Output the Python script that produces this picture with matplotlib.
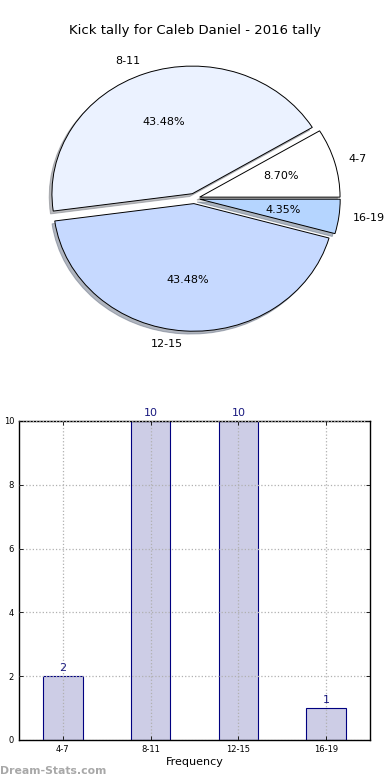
import matplotlib
matplotlib.use("Agg")
import matplotlib.pyplot as plt

categories = ["4-7", "8-11", "12-15", "16-19"]
counts = [2, 10, 10, 1]
pie_colors = ["#FFFFFF", "#EBF2FF", "#C6D9FF", "#B5D5FF"]
title = "Kick tally for Caleb Daniel - 2016 tally"
yticks = [0, 2, 4, 6, 8, 10]

fig = plt.figure(figsize=(3.9, 7.8), dpi=100)

# Pie
ax1 = fig.add_axes([0.048, 0.541, 0.9, 0.409])
ax1.pie(counts, labels=categories, colors=pie_colors, explode=[0.04] * 4,
        autopct="%1.2f%%", pctdistance=0.6, labeldistance=1.1,
        shadow=dict(ox=-0.014, oy=-0.016, shade=0.5),
        startangle=0, wedgeprops=dict(edgecolor="black", linewidth=0.7),
        textprops=dict(fontsize=8))
ax1.set_aspect("auto")
ax1.set_xlim(-1.25, 1.25)
ax1.set_ylim(-1.25, 1.25)
fig.text(0.5, 0.961, title, ha="center", va="center", fontsize=9.5)

# Bar
ax2 = fig.add_axes([0.0487, 0.0513, 0.9, 0.409])
x = list(range(len(categories)))
bars = ax2.bar(x, counts, width=0.45, color="#CDCDE6", edgecolor="#000080",
               linewidth=0.8, zorder=1)
for xi, c in zip(x, counts):
    ax2.text(xi, c + 0.1, str(c), ha="center", va="bottom", fontsize=8,
             color="#1A1A80")
ax2.set_xlim(-0.5, 3.5)
ax2.set_ylim(0, 10)
ax2.set_xticks(x)
ax2.set_xticklabels(categories, fontsize=6)
ax2.set_yticks(yticks)
ax2.set_yticklabels([str(v) for v in yticks], fontsize=6)
ax2.grid(True, linestyle=":", color="#B0B0B0", linewidth=0.9, zorder=3)
ax2.set_axisbelow(False)
ax2.tick_params(direction="in", length=3, width=0.6, top=True, right=True)
for s in ax2.spines.values():
    s.set_linewidth(1.0)
ax2.set_xlabel("Frequency", fontsize=8, labelpad=2)
ax2.set_ylabel("Distance Tally", fontsize=7)
ax2.yaxis.set_label_coords(-0.05, 0.5)

fig.text(0.0, 0.012, "Dream-Stats.com", ha="left", va="center", fontsize=7.8,
         color="#A8A8A8", fontweight="bold")

fig.savefig("out.png", dpi=100)
